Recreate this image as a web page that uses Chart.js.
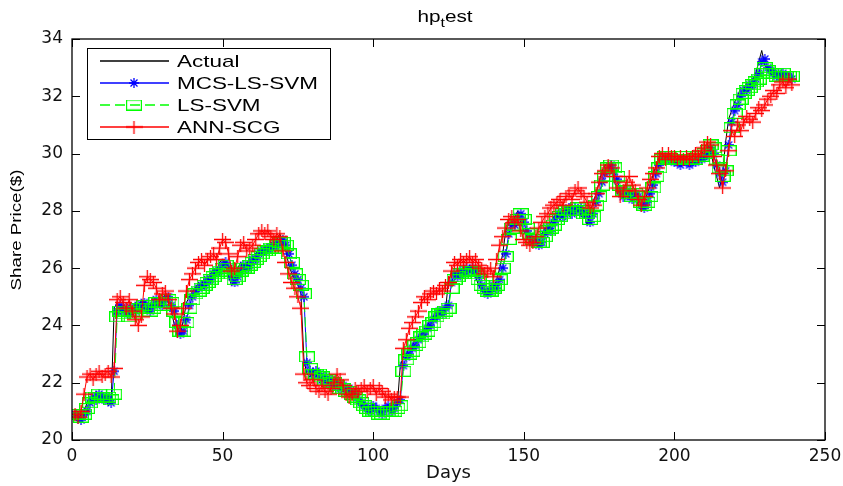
<!DOCTYPE html>
<html lang="en">
<head>
<meta charset="UTF-8">
<title>hp_test</title>
<script src="https://cdn.jsdelivr.net/npm/chart.js@4"></script>
<style>
  html, body { margin: 0; padding: 0; background: #fff; }
  #wrap { width: 843px; height: 486px; }
</style>
</head>
<body>
<div id="wrap"><canvas id="myChart" width="843" height="486"></canvas></div>
<script>
// closing share price per trading day (day 1 .. 239)
const actual = [
  20.8, 20.6, 20.9, 21.0, 21.3, 21.5, 21.4, 21.7, 21.5, 21.4, 21.6, 21.2, 21.3, 24.6, 24.8,
  24.5, 24.7, 24.3, 24.6, 24.4, 24.8, 24.5, 24.9, 24.6, 24.4, 24.7, 25.0, 24.8, 24.6, 24.9, 25.1, 24.8, 24.5,
  24.0, 23.6, 23.7, 24.2, 24.8, 25.0, 25.2,
  25.3, 25.5, 25.4, 25.7, 25.6, 25.8, 26.0, 25.9, 26.2, 26.3,
  26.1, 25.7, 25.4, 25.6, 26.0, 26.2, 25.9, 26.1, 26.4, 26.3,
  26.5, 26.7, 26.6, 26.8, 26.7, 26.9, 26.8, 27.0, 27.2, 26.9,
  26.6, 26.1, 25.8, 25.6, 25.4, 25.1,
  22.8, 22.3, 22.2, 22.4,
  22.3, 22.1, 22.2, 22.0, 22.1, 21.9, 22.0, 21.8, 21.9, 21.7, 21.8, 21.6, 21.7, 21.5, 21.4,
  21.2, 21.1, 21.0, 21.2, 21.1, 21.0, 20.9, 21.1, 21.2, 21.0, 21.1, 21.3, 21.2,
  22.6, 22.9, 23.0, 23.2, 23.3, 23.5, 23.6, 23.7, 23.9, 24.0, 24.2, 24.3, 24.5, 24.4, 24.6, 24.5,
  25.6, 25.8, 25.7, 25.9, 25.8, 26.0, 25.9, 26.1, 25.9, 25.7, 25.4,
  25.2, 25.1, 25.2, 25.4, 25.3, 25.6,
  26.0, 26.5, 27.3, 27.6, 27.5, 27.8, 28.0, 27.6, 27.3,
  27.1, 26.9, 27.0, 26.8, 26.9, 27.2, 27.4, 27.3, 27.6, 27.8,
  27.9, 27.8, 28.0, 28.1, 27.9, 28.2, 28.0, 28.1, 27.8, 27.9, 27.5, 27.9,
  28.3, 28.6, 29.0, 29.4, 29.6, 29.7, 29.5, 29.1,
  28.6, 28.5, 28.8, 28.6, 28.4, 28.7, 28.5, 28.2, 28.0, 28.3, 28.6, 28.9,
  29.3, 29.6, 29.9, 30.0, 29.8, 29.9, 29.7, 29.8,
  29.7, 29.9, 29.8, 29.6, 29.8, 29.7, 29.9, 29.8, 30.0, 30.1, 30.3, 30.1,
  29.6, 29.2, 28.8, 29.3,
  30.4, 31.2, 31.5, 31.8, 32.0, 32.3,
  32.2, 32.5, 32.4, 32.6, 32.8, 33.2, 33.6,
  33.1, 32.9, 32.8, 32.6, 32.7, 32.8, 32.6, 32.7, 32.6, 32.7
];

const mcsLsSvm = [
  20.9, 20.8, 20.7, 20.9, 21.0, 21.3, 21.5, 21.4, 21.6, 21.5, 21.4, 21.5, 21.3, 22.4, 24.5,
  24.7, 24.5, 24.6, 24.4, 24.6, 24.5, 24.7, 24.6, 24.8, 24.6, 24.5, 24.7, 24.9, 24.8, 24.7, 24.9, 25.0, 24.7,
  24.5, 24.0, 23.7, 23.8, 24.2, 24.7, 25.0,
  25.2, 25.3, 25.4, 25.4, 25.6, 25.6, 25.8, 25.9, 25.9, 26.1,
  26.2, 26.0, 25.7, 25.5, 25.7, 25.9, 26.1, 26.0, 26.1, 26.3,
  26.3, 26.5, 26.6, 26.6, 26.7, 26.7, 26.8, 26.8, 26.9, 27.0,
  26.8, 26.5, 26.1, 25.8, 25.6, 25.3,
  25.0, 22.7, 22.4, 22.3,
  22.4, 22.3, 22.1, 22.2, 22.0, 22.1, 21.9, 22.0, 21.8, 21.9, 21.7, 21.8, 21.6, 21.6, 21.4,
  21.3, 21.2, 21.1, 21.0, 21.2, 21.1, 21.0, 20.9, 21.1, 21.2, 21.0, 21.1, 21.3,
  21.4, 22.6, 22.9, 23.0, 23.2, 23.3, 23.5, 23.6, 23.7, 23.9, 24.0, 24.2, 24.3, 24.5, 24.4, 24.6,
  24.7, 25.5, 25.8, 25.7, 25.9, 25.8, 26.0, 25.9, 26.0, 25.9, 25.7,
  25.4, 25.2, 25.1, 25.2, 25.4, 25.3,
  25.6, 26.0, 26.5, 27.2, 27.5, 27.5, 27.8, 27.9, 27.6,
  27.3, 27.1, 26.9, 27.0, 26.8, 26.9, 27.2, 27.4, 27.3, 27.6,
  27.8, 27.9, 27.8, 28.0, 28.1, 27.9, 28.1, 28.0, 28.1, 27.9, 27.9, 27.6,
  27.9, 28.3, 28.6, 29.0, 29.3, 29.5, 29.6, 29.4,
  29.1, 28.7, 28.5, 28.7, 28.6, 28.4, 28.6, 28.5, 28.2, 28.1, 28.3, 28.6,
  28.9, 29.3, 29.6, 29.8, 29.9, 29.8, 29.8, 29.7,
  29.7, 29.6, 29.8, 29.7, 29.6, 29.7, 29.7, 29.8, 29.8, 29.9, 30.0, 30.2,
  30.0, 29.6, 29.3, 29.0,
  29.4, 30.3, 31.1, 31.5, 31.7, 32.0,
  32.2, 32.2, 32.4, 32.4, 32.6, 32.8, 33.2,
  33.3, 33.0, 32.9, 32.8, 32.7, 32.7, 32.8, 32.7, 32.7, 32.6
];

const lsSvm = [
  20.9, 20.9, 20.8, 20.9, 21.1, 21.3, 21.5, 21.5, 21.6, 21.5, 21.5, 21.5, 21.4, 21.6, 24.3,
  24.5, 24.4, 24.5, 24.3, 24.5, 24.4, 24.6, 24.6, 24.7, 24.6, 24.5, 24.6, 24.8, 24.8, 24.7, 24.8, 24.9, 24.8,
  24.5, 24.1, 23.8, 23.8, 24.1, 24.6, 24.9,
  25.1, 25.2, 25.3, 25.4, 25.5, 25.6, 25.7, 25.8, 25.9, 26.0,
  26.1, 26.0, 25.8, 25.6, 25.7, 25.9, 26.0, 26.0, 26.1, 26.2,
  26.3, 26.4, 26.5, 26.6, 26.6, 26.7, 26.7, 26.8, 26.9, 26.9,
  26.8, 26.5, 26.2, 25.8, 25.6, 25.4,
  25.1, 22.9, 22.5, 22.3,
  22.3, 22.3, 22.2, 22.1, 22.1, 22.0, 22.0, 21.9, 21.8, 21.8, 21.7, 21.7, 21.6, 21.5, 21.4,
  21.3, 21.2, 21.1, 21.0, 21.0, 21.0, 20.9, 20.9, 21.0, 21.0, 21.0, 21.0, 21.1,
  21.2, 22.4, 22.8, 23.0, 23.1, 23.3, 23.4, 23.6, 23.7, 23.8, 24.0, 24.1, 24.3, 24.4, 24.4, 24.5,
  24.6, 25.3, 25.6, 25.7, 25.8, 25.8, 25.9, 25.9, 25.9, 25.8, 25.6,
  25.4, 25.3, 25.2, 25.2, 25.3, 25.4,
  25.6, 26.0, 26.4, 27.0, 27.4, 27.5, 27.7, 27.9, 27.7,
  27.4, 27.2, 27.0, 27.0, 26.9, 26.9, 27.1, 27.3, 27.4, 27.5,
  27.7, 27.8, 27.9, 28.0, 28.0, 28.0, 28.0, 28.1, 28.0, 27.9, 27.9, 27.7,
  27.8, 28.2, 28.5, 28.9, 29.2, 29.5, 29.6, 29.5,
  29.2, 28.9, 28.7, 28.7, 28.6, 28.5, 28.6, 28.5, 28.3, 28.2, 28.3, 28.5,
  28.8, 29.2, 29.5, 29.8, 29.9, 29.9, 29.8, 29.8,
  29.8, 29.8, 29.9, 29.8, 29.8, 29.8, 29.8, 29.9, 29.9, 30.0, 30.1, 30.3,
  30.2, 29.8, 29.5, 29.2,
  29.4, 30.1, 30.9, 31.4, 31.7, 31.9,
  32.1, 32.2, 32.3, 32.4, 32.5, 32.6, 32.8,
  33.0, 32.9, 32.8, 32.8, 32.7, 32.7, 32.8, 32.7, 32.7, 32.7
];

const annScg = [
  20.9, 20.8, 21.0, 21.6, 22.2, 22.3, 22.1, 22.3, 22.4, 22.2, 22.3, 22.4, 22.2, 22.5, 24.9,
  25.0, 24.8, 24.6, 24.9, 24.5, 24.2, 24.0, 24.3, 25.4, 25.7, 25.6, 25.5, 25.3, 24.9, 25.1, 25.2, 24.9, 24.6,
  24.4, 23.8, 24.0, 24.6, 25.2, 25.6, 25.8,
  26.0, 26.2, 26.3, 26.1, 26.3, 26.4, 26.5, 26.3, 26.7, 27.0,
  26.9, 26.5, 25.9, 26.0, 26.4, 26.8, 26.9, 26.6, 26.7, 26.8,
  27.0, 27.2, 27.3, 27.2, 27.3, 27.1, 27.0, 27.2, 27.1, 26.6,
  26.2, 25.8, 25.5, 25.3, 25.0, 24.6,
  22.3, 22.0, 21.9, 22.1,
  21.8, 21.7, 21.9, 21.7, 21.6, 21.8, 22.0, 22.3, 22.1, 21.9, 21.6, 21.5, 21.6, 21.8, 21.7,
  21.8, 21.9, 21.7, 21.8, 21.9, 21.6, 21.8, 21.7, 21.5, 21.6, 21.4, 21.5, 21.5,
  21.5, 23.2, 23.5, 23.9, 24.1, 24.3, 24.5, 24.8, 25.0, 24.9, 25.1, 25.2, 25.1, 25.3, 25.2, 25.4,
  25.5, 25.9, 26.2, 26.1, 26.3, 26.2, 26.3, 26.4, 26.2, 26.3, 26.1,
  26.0, 25.8, 25.9, 26.0, 25.7, 26.3,
  26.8, 27.1, 27.4, 27.7, 27.8, 27.6, 27.7, 27.3, 27.0,
  26.9, 26.8, 26.9, 27.1, 27.4, 27.6, 27.8, 27.9, 28.1, 28.2,
  28.3, 28.4, 28.2, 28.5, 28.6, 28.4, 28.7, 28.8, 28.6, 28.5, 28.3, 28.1,
  28.2, 28.6, 29.0, 29.3, 29.4, 29.6, 29.5, 29.2,
  28.8, 28.5, 28.7, 29.0, 29.2, 28.9, 28.7, 28.4, 28.2, 28.5, 28.8, 29.1,
  29.3, 29.5, 29.9, 30.0, 29.8, 30.0, 29.9, 29.9,
  29.8, 29.9, 29.8, 29.9, 29.8, 29.9, 30.0, 29.9, 30.1, 30.2, 30.4, 30.3,
  29.9, 29.6, 29.3, 28.8,
  29.4, 30.1, 30.8, 30.6, 31.0, 30.8,
  31.1, 31.3, 31.2, 31.1, 31.4, 31.6, 31.5,
  31.7, 31.9, 32.0, 32.2, 32.1, 32.4, 32.5, 32.3, 32.6, 32.4
];

const seriesNames = ['Actual', 'MCS-LS-SVM', 'LS-SVM', 'ANN-SCG'];
const firstDay = 1;

// small canvases used as point markers (matlab '*', 's', '+')
function makeMarker(w, h, paint) {
  const c = document.createElement('canvas');
  c.width = w;
  c.height = h;
  paint(c.getContext('2d'), w, h);
  return c;
}

const starMark = makeMarker(10, 10, (g, w, h) => {
  g.strokeStyle = '#0000ff';
  g.lineWidth = 1.3;
  g.beginPath();
  g.moveTo(0, h / 2); g.lineTo(w, h / 2);
  g.moveTo(w / 2, 0); g.lineTo(w / 2, h);
  g.moveTo(1.5, 1.5); g.lineTo(w - 1.5, h - 1.5);
  g.moveTo(w - 1.5, 1.5); g.lineTo(1.5, h - 1.5);
  g.stroke();
});

const squareMark = makeMarker(16, 11, (g, w, h) => {
  g.strokeStyle = '#00ff00';
  g.lineWidth = 1.2;
  g.strokeRect(0.6, 0.6, w - 1.2, h - 1.2);
});

const plusMark = makeMarker(17, 13, (g, w, h) => {
  g.strokeStyle = '#ff0000';
  g.lineWidth = 1.3;
  g.beginPath();
  g.moveTo(0, h / 2); g.lineTo(w, h / 2);
  g.moveTo(w / 2, 0); g.lineTo(w / 2, h);
  g.stroke();
});

function toPoints(values) {
  return values.map((v, i) => ({ x: firstDay + i, y: v }));
}

const datasets = [
  { label: seriesNames[0], data: toPoints(actual), borderColor: '#000000', borderWidth: 1,
    pointRadius: 0, order: 4 },
  { label: seriesNames[1], data: toPoints(mcsLsSvm), borderColor: '#0000ff', borderWidth: 1,
    pointStyle: starMark, pointRadius: 4, order: 3 },
  { label: seriesNames[2], data: toPoints(lsSvm), borderColor: '#00ff00', borderWidth: 1,
    borderDash: [10, 5], pointStyle: squareMark, pointRadius: 4, order: 2 },
  { label: seriesNames[3], data: toPoints(annScg), borderColor: '#ff0000', borderWidth: 1,
    pointStyle: plusMark, pointRadius: 4, order: 1 }
];

function stretchedText(ctx, text, x, y, sx) {
  ctx.save();
  ctx.translate(x, y);
  ctx.scale(sx, 1);
  ctx.fillText(text, 0, 0);
  ctx.restore();
}

// axes box with inward ticks, title, y label and legend, matlab style
const matlabAxes = {
  id: 'matlabAxes',
  afterDraw(chart) {
    const { ctx, chartArea: a, scales: { x, y } } = chart;
    ctx.save();

    ctx.strokeStyle = '#000';
    ctx.lineWidth = 1;
    ctx.beginPath();
    x.ticks.forEach(t => {
      const px = Math.round(x.getPixelForValue(t.value)) + 0.5;
      ctx.moveTo(px, a.bottom); ctx.lineTo(px, a.bottom - 8);
      ctx.moveTo(px, a.top); ctx.lineTo(px, a.top + 8);
    });
    y.ticks.forEach(t => {
      const py = Math.round(y.getPixelForValue(t.value)) + 0.5;
      ctx.moveTo(a.left, py); ctx.lineTo(a.left + 8, py);
      ctx.moveTo(a.right, py); ctx.lineTo(a.right - 8, py);
    });
    ctx.stroke();
    ctx.lineWidth = 1.3;
    ctx.strokeRect(a.left, a.top, a.right - a.left, a.bottom - a.top);

    // title hp_test (underscore rendered as subscript)
    ctx.fillStyle = '#000';
    ctx.textBaseline = 'alphabetic';
    ctx.textAlign = 'left';
    const sx = 1.22;
    const big = '17px "Liberation Sans", Arial, sans-serif';
    const small = '13px "Liberation Sans", Arial, sans-serif';
    ctx.font = big;
    const w1 = ctx.measureText('hp').width * sx;
    const w3 = ctx.measureText('est').width * sx;
    ctx.font = small;
    const w2 = ctx.measureText('t').width * sx;
    const tx = 445 - (w1 + w2 + w3) / 2;
    ctx.font = big;
    stretchedText(ctx, 'hp', tx, 22, sx);
    ctx.font = small;
    stretchedText(ctx, 't', tx + w1, 27, sx);
    ctx.font = big;
    stretchedText(ctx, 'est', tx + w1 + w2, 22, sx);

    // y axis label
    ctx.save();
    ctx.translate(17, 230);
    ctx.rotate(-Math.PI / 2);
    ctx.font = '14px "Liberation Sans", Arial, sans-serif';
    ctx.textAlign = 'center';
    ctx.textBaseline = 'middle';
    ctx.scale(1.34, 1);
    ctx.fillText('Share Price($)', 0, 0);
    ctx.restore();

    // legend box
    const box = { left: 87.5, top: 48.5, right: 330.5, bottom: 139.5 };
    ctx.fillStyle = '#fff';
    ctx.fillRect(box.left, box.top, box.right - box.left, box.bottom - box.top);
    ctx.strokeStyle = '#000';
    ctx.lineWidth = 1;
    ctx.strokeRect(box.left, box.top, box.right - box.left, box.bottom - box.top);

    const rowY = [61, 83, 105, 127];
    ctx.font = '17px "Liberation Sans", Arial, sans-serif';
    ctx.textBaseline = 'middle';
    chart.data.datasets.forEach((ds, i) => {
      const yy = rowY[i];
      ctx.save();
      ctx.strokeStyle = ds.borderColor;
      ctx.lineWidth = 1.3;
      ctx.setLineDash(ds.borderDash || []);
      ctx.beginPath();
      ctx.moveTo(100, yy);
      ctx.lineTo(169, yy);
      ctx.stroke();
      ctx.restore();
      if (ds.pointStyle) {
        const m = ds.pointStyle;
        ctx.drawImage(m, 134 - m.width / 2, yy - m.height / 2);
      }
      ctx.fillStyle = '#000';
      stretchedText(ctx, ds.label, 177, yy + 1, 1.32);
    });

    ctx.restore();
  }
};

const ctx = document.getElementById('myChart').getContext('2d');

new Chart(ctx, {
  type: 'line',
  data: { datasets: datasets },
  options: {
    responsive: false,
    animation: false,
    events: [],
    layout: { padding: { top: 39, right: 18, left: 0, bottom: 0 } },
    elements: { line: { tension: 0, fill: false } },
    plugins: {
      legend: { display: false },
      title: { display: false },
      tooltip: { enabled: false }
    },
    scales: {
      x: {
        type: 'linear',
        min: 0,
        max: 250,
        ticks: {
          stepSize: 50,
          padding: 6,
          color: '#111',
          maxRotation: 0,
          font: { family: 'DejaVu Sans', size: 17 }
        },
        grid: { display: false, drawTicks: false },
        border: { display: false },
        title: {
          display: true,
          text: 'Days',
          color: '#111',
          padding: { top: 0, bottom: 2 },
          font: { family: 'DejaVu Sans', size: 18 }
        },
        afterFit(scale) {
          scale.height = 46;
          // keep the plot box edges fixed regardless of the end labels
          scale.paddingLeft = 0;
          scale.paddingRight = 0;
        }
      },
      y: {
        min: 20,
        max: 34,
        ticks: {
          stepSize: 2,
          padding: 9,
          color: '#111',
          font: { family: 'DejaVu Sans', size: 17 }
        },
        grid: { display: false, drawTicks: false },
        border: { display: false },
        afterFit(scale) { scale.width = 72; }
      }
    }
  },
  plugins: [matlabAxes]
});
</script>
</body>
</html>
